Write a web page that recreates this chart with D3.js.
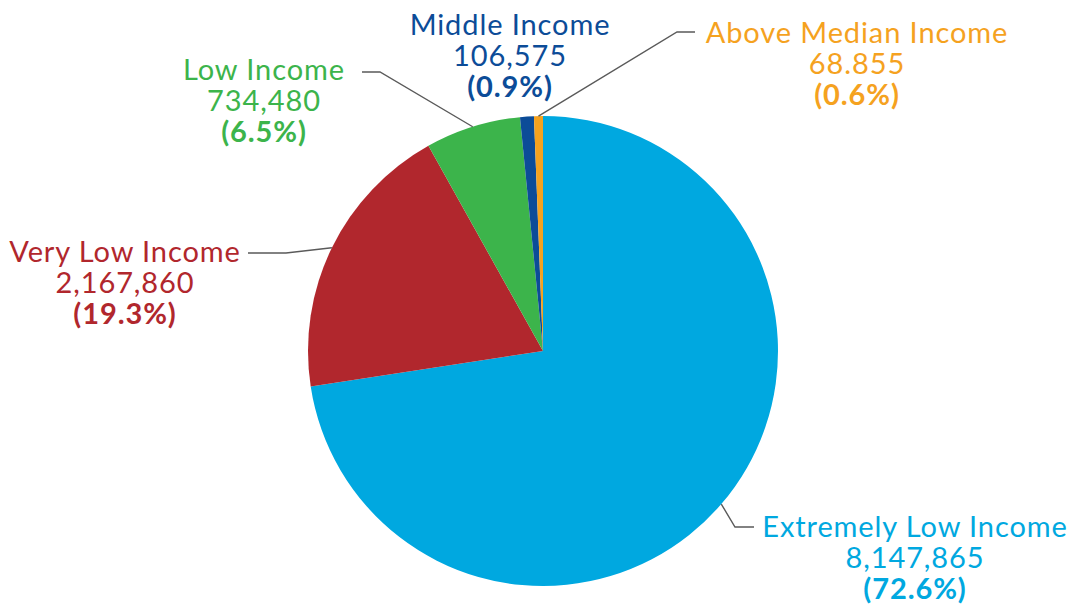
<!DOCTYPE html>
<html>
<head>
<meta charset="utf-8">
<script src="https://cdn.jsdelivr.net/npm/d3@7"></script>
<style>
  html, body { margin: 0; padding: 0; background: #fff; }
  svg { display: block; font-family: Lato, "Open Sans", sans-serif; }
</style>
</head>
<body>
<div id="chart"></div>
<script>
// ---- data ----
const categories = ['Extremely Low Income', 'Very Low Income', 'Low Income', 'Middle Income', 'Above Median Income'];
const counts = [8147865, 2167860, 734480, 106575, 68855];
const countLabels = ['8,147,865', '2,167,860', '734,480', '106,575', '68.855'];
const pctLabels = ['(72.6%)', '(19.3%)', '(6.5%)', '(0.9%)', '(0.6%)'];
const colors = ['#00a8e0', '#b1272d', '#3cb44b', '#0c4c98', '#f5a21f'];

// ---- layout ----
const W = 1072, H = 605;
const CX = 543, CY = 351, R = 235;
const LINE_H = 31;

// label anchor (text centre x, first baseline y) and leader elbow/end
const labelPos = [
  { x: 915, y: 537, elbow: [735, 527], end: [754, 527] },
  { x: 125, y: 262, elbow: [286, 253], end: [248, 253] },
  { x: 264, y: 80,  elbow: [380, 72],  end: [362, 72] },
  { x: 510, y: 35,  elbow: null,       end: null },
  { x: 857, y: 43,  elbow: [677, 32],  end: [695, 32] }
];

const svg = d3.select('#chart').append('svg')
  .attr('width', W).attr('height', H);

const g = svg.append('g').attr('transform', `translate(${CX},${CY})`);

const pie = d3.pie().sort(null).value(d => d);
const arcs = pie(counts);
const arc = d3.arc().innerRadius(0).outerRadius(R);

g.selectAll('path.slice').data(arcs).join('path')
  .attr('class', 'slice')
  .attr('d', arc)
  .attr('fill', (d, i) => colors[i]);

// leader lines: start on the rim at the slice's mid angle
const leaders = svg.append('g');
arcs.forEach((a, i) => {
  const lp = labelPos[i];
  if (!lp.elbow) return;
  const mid = (a.startAngle + a.endAngle) / 2;
  const sx = CX + R * Math.sin(mid);
  const sy = CY - R * Math.cos(mid);
  leaders.append('polyline')
    .attr('points', [[sx, sy], lp.elbow, lp.end].map(p => p.join(',')).join(' '))
    .attr('fill', 'none')
    .attr('stroke', '#5a5a5a')
    .attr('stroke-width', 1.4);
});

// labels
const labels = svg.append('g');
categories.forEach((c, i) => {
  const lp = labelPos[i];
  const t = labels.append('text')
    .attr('x', lp.x).attr('y', lp.y)
    .attr('text-anchor', 'middle')
    .attr('fill', colors[i])
    .style('font-size', '29px')
    .style('letter-spacing', '0.9px');
  t.append('tspan').attr('x', lp.x).attr('y', lp.y).text(c);
  t.append('tspan').attr('x', lp.x).attr('y', lp.y + LINE_H).text(countLabels[i]);
  t.append('tspan').attr('x', lp.x).attr('y', lp.y + LINE_H * 2)
    .style('font-weight', 'bold').text(pctLabels[i]);
});
</script>
</body>
</html>
